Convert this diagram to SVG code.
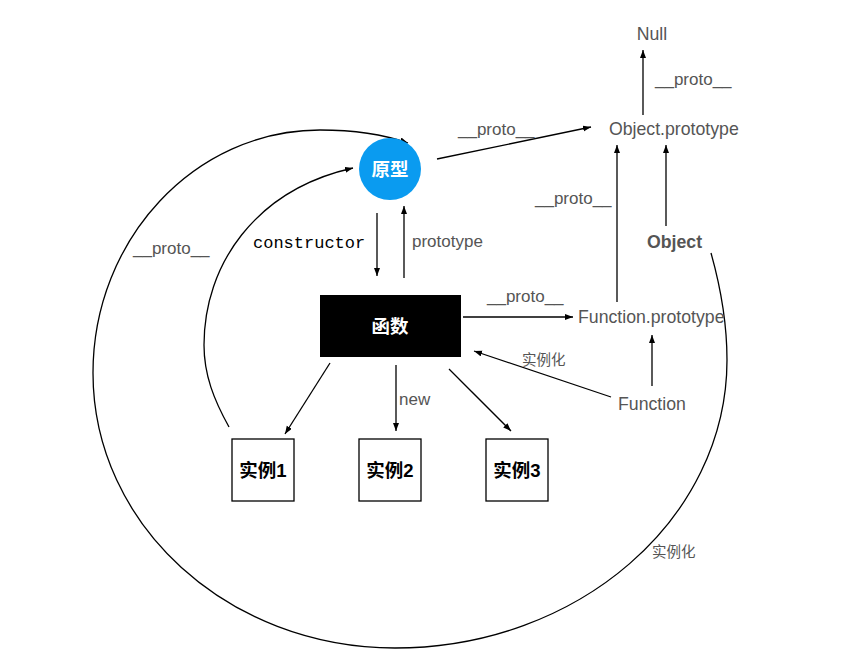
<svg xmlns="http://www.w3.org/2000/svg" width="844" height="659" viewBox="0 0 844 659">
<defs>
<marker id="ah" markerUnits="userSpaceOnUse" markerWidth="9" markerHeight="7" refX="8" refY="3" orient="auto">
<path d="M0,0 L8,3 L0,6 z" fill="#000"/>
</marker>
<style>
.lbl{font-family:"Liberation Sans",Arial,sans-serif;font-size:17px;fill:#555}
.nd{font-family:"Liberation Sans",Arial,sans-serif;font-size:17.7px;fill:#555}
.cjk{font-family:"Liberation Sans","Noto Sans CJK SC",sans-serif;font-size:14.5px;fill:#555}
.box{fill:#fff;stroke:#000;stroke-width:1.3}
.bt{font-family:"Liberation Sans","Noto Sans CJK SC",sans-serif;font-size:18.5px;font-weight:bold;fill:#000;text-anchor:middle}
.wt{font-family:"Liberation Sans","Noto Sans CJK SC",sans-serif;font-size:18.5px;font-weight:bold;fill:#fff;text-anchor:middle}
.ln{fill:none;stroke:#000;stroke-width:1.3;marker-end:url(#ah)}
</style>
</defs>
<rect width="844" height="659" fill="#fff"/>
<g id="connectors">
<line class="ln" x1="643" y1="115" x2="643" y2="50"/>
<line class="ln" x1="437" y1="159" x2="591" y2="127"/>
<line class="ln" x1="617" y1="302" x2="617" y2="145"/>
<line class="ln" x1="666" y1="226" x2="666" y2="145"/>
<line class="ln" x1="377" y1="213" x2="377" y2="276"/>
<line class="ln" x1="404" y1="278" x2="404" y2="206"/>
<line class="ln" x1="463" y1="317" x2="573" y2="317"/>
<line class="ln" x1="652" y1="386" x2="652" y2="335"/>
<line class="ln" x1="611" y1="397" x2="474" y2="351"/>
<line class="ln" x1="330" y1="363" x2="285" y2="434"/>
<line class="ln" x1="396" y1="365" x2="396" y2="431"/>
<line class="ln" x1="449" y1="369" x2="511" y2="431"/>
<path class="ln" d="M229,427 C214,400 204,375 204,345 C204,265 255,190 353,168"/>
<path class="ln" d="M711,253 C720,285 727,320 727,360 C727,519 578,648 395,648 C228,648 93,525 93,373 C93,239 195,130 320,130 C355,130 385,135 408,143"/>
<text class="lbl" x="655" y="85">__proto__</text>
<text class="lbl" x="458" y="135">__proto__</text>
<text class="lbl" x="535" y="204">__proto__</text>
<text class="lbl" x="412" y="247">prototype</text>
<text style="font-family:'Liberation Mono','DejaVu Sans Mono',monospace;font-size:17px;fill:#000" x="253" y="248">constructor</text>
<text class="lbl" x="133" y="254">__proto__</text>
<text class="lbl" x="487" y="302">__proto__</text>
<text class="cjk" x="522" y="365">实例化</text>
<text class="lbl" x="399" y="405">new</text>
<text class="cjk" x="652" y="557">实例化</text>
</g>
<g id="null"><text class="nd" x="652" y="40" text-anchor="middle">Null</text></g>
<g id="object-prototype"><text class="nd" x="609" y="135">Object.prototype</text></g>
<g id="object"><text class="nd" x="647" y="248" style="font-weight:bold">Object</text></g>
<g id="function-prototype"><text class="nd" x="578" y="323">Function.prototype</text></g>
<g id="function"><text class="nd" x="618" y="410">Function</text></g>
<g id="prototype-node">
<circle cx="390" cy="169" r="31" fill="#0a9bf0"/>
<text class="wt" x="390" y="176">原型</text>
</g>
<g id="func">
<rect x="320" y="295" width="141" height="62" fill="#000"/>
<text class="wt" x="390" y="333">函数</text>
</g>
<g id="inst1"><rect class="box" x="232" y="439" width="62" height="62"/><text class="bt" x="263" y="477">实例1</text></g>
<g id="inst2"><rect class="box" x="359" y="439" width="62" height="62"/><text class="bt" x="390" y="477">实例2</text></g>
<g id="inst3"><rect class="box" x="486" y="439" width="62" height="62"/><text class="bt" x="517" y="477">实例3</text></g>
</svg>
